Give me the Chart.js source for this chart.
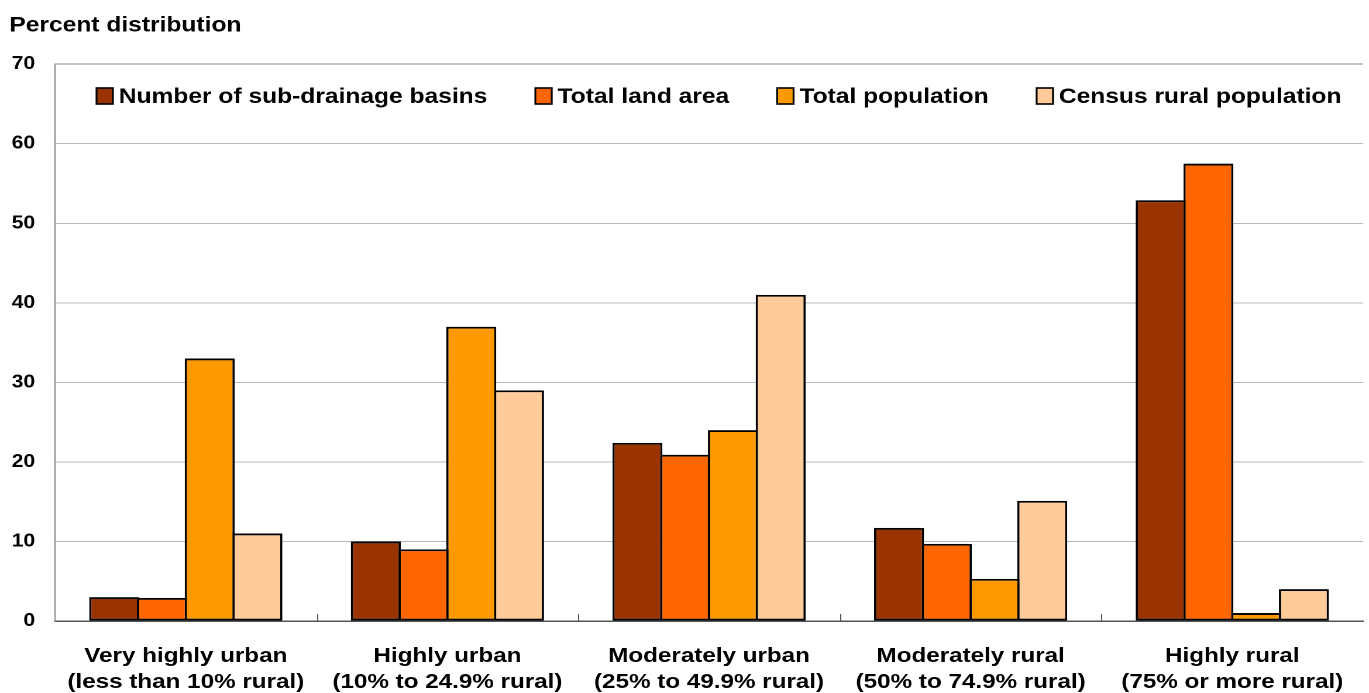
<!DOCTYPE html>
<html>
<head>
<meta charset="utf-8">
<title>Percent distribution by rural share</title>
<script src="https://cdn.jsdelivr.net/npm/chart.js@4/dist/chart.umd.min.js"></script>
<style>
  html, body { margin: 0; padding: 0; background: #ffffff; }
  #chart { display: block; }
</style>
</head>
<body>
<!-- the canvas is laid out narrower and shown stretched to the full width -->
<canvas id="chart" width="1170" height="693" style="width:1369px;height:693px;"></canvas>
<script>
// Categories (two-line axis labels)
const categories = [
  ['Very highly urban', '(less than 10% rural)'],
  ['Highly urban', '(10% to 24.9% rural)'],
  ['Moderately urban', '(25% to 49.9% rural)'],
  ['Moderately rural', '(50% to 74.9% rural)'],
  ['Highly rural', '(75% or more rural)']
];

// Series, percent distribution
const seriesNames = [
  'Number of sub-drainage basins',
  'Total land area',
  'Total population',
  'Census rural population'
];
const subBasins = [3.0, 10.0, 22.4, 11.7, 52.9];
const landArea = [2.9, 9.0, 20.9, 9.7, 57.5];
const totalPopulation = [33.0, 37.0, 24.0, 5.3, 1.0];
const ruralPopulation = [11.0, 29.0, 41.0, 15.1, 4.0];

// Value axis
const yTicks = [0, 10, 20, 30, 40, 50, 60, 70];

const colors = ['#993300', '#ff6600', '#ff9900', '#ffcc99'];
const FONT = "'Liberation Sans', Arial, Helvetica, sans-serif";

const seriesValues = [subBasins, landArea, totalPopulation, ruralPopulation];

// Legend drawn across the top of the plot area
const insideLegend = {
  id: 'insideLegend',
  afterDraw(chart) {
    const ctx = chart.ctx;
    const area = chart.chartArea;
    const boxW = 14, boxH = 16, boxGap = 5, itemGap = 41;
    const yMid = 96;
    ctx.save();
    ctx.font = 'bold 21px ' + FONT;
    const widths = chart.data.datasets.map(d => ctx.measureText(d.label).width);
    const total = widths.reduce((s, w) => s + boxW + boxGap + w, 0) + itemGap * (widths.length - 1);
    let x = (area.left + area.right) / 2 - total / 2 + 8.5;
    chart.data.datasets.forEach((d, i) => {
      ctx.fillStyle = d.backgroundColor;
      ctx.fillRect(x, yMid - boxH / 2, boxW, boxH);
      ctx.lineWidth = 1.6;
      ctx.strokeStyle = '#000000';
      ctx.strokeRect(x, yMid - boxH / 2, boxW, boxH);
      ctx.fillStyle = '#000000';
      ctx.textBaseline = 'middle';
      ctx.textAlign = 'left';
      ctx.fillText(d.label, x + boxW + boxGap, yMid + 1);
      x += boxW + boxGap + widths[i] + itemGap;
    });
    ctx.restore();
  }
};

// Short inward tick marks between categories on the base line
const categoryTicks = {
  id: 'categoryTicks',
  afterDatasetsDraw(chart) {
    const xs = chart.scales.x;
    const ctx = chart.ctx;
    const bottom = chart.chartArea.bottom;
    ctx.save();
    ctx.strokeStyle = '#555555';
    ctx.lineWidth = 1;
    for (let i = 1; i < categories.length; i++) {
      const px = Math.round((xs.getPixelForValue(i - 1) + xs.getPixelForValue(i)) / 2) + 0.5;
      ctx.beginPath();
      ctx.moveTo(px, bottom);
      ctx.lineTo(px, bottom - 7);
      ctx.stroke();
    }
    ctx.restore();
  }
};

new Chart(document.getElementById('chart'), {
  type: 'bar',
  data: {
    labels: categories,
    datasets: seriesNames.map((name, i) => ({
      label: name,
      data: seriesValues[i],
      backgroundColor: colors[i],
      borderColor: '#000000',
      borderWidth: 1.9,
      borderSkipped: false,
      categoryPercentage: 0.73,
      barPercentage: 1.046
    }))
  },
  options: {
    responsive: false,
    devicePixelRatio: 2,
    animation: false,
    layout: { padding: { left: 8, right: 0, top: 0, bottom: 0 } },
    plugins: {
      legend: { display: false },
      tooltip: { enabled: false },
      title: {
        display: true,
        text: 'Percent distribution',
        align: 'start',
        color: '#000000',
        font: { family: FONT, size: 21, weight: 'bold' },
        padding: { top: 13, bottom: 26 }
      }
    },
    scales: {
      x: {
        grid: { display: false, drawTicks: false },
        border: { display: true, color: '#555555', width: 1.5 },
        ticks: {
          color: '#000000',
          padding: 22,
          maxRotation: 0,
          autoSkip: false,
          font: { family: FONT, size: 20.7, weight: 'bold', lineHeight: 1.26 }
        },
        afterFit(scale) { scale.height = 72; }
      },
      y: {
        min: 0,
        max: 70,
        afterBuildTicks(scale) { scale.ticks = yTicks.map(v => ({ value: v })); },
        grid: {
          drawTicks: false,
          lineWidth: 1,
          color: c => (c.tick && c.tick.value === 70) ? '#888888' : '#b8b8b8'
        },
        border: { display: true, color: '#888888', width: 1 },
        ticks: {
          color: '#000000',
          padding: 17,
          font: { family: FONT, size: 18, weight: 'bold' }
        },
        afterFit(scale) { scale.width = 39; }
      }
    }
  },
  plugins: [insideLegend, categoryTicks]
});
</script>
</body>
</html>
